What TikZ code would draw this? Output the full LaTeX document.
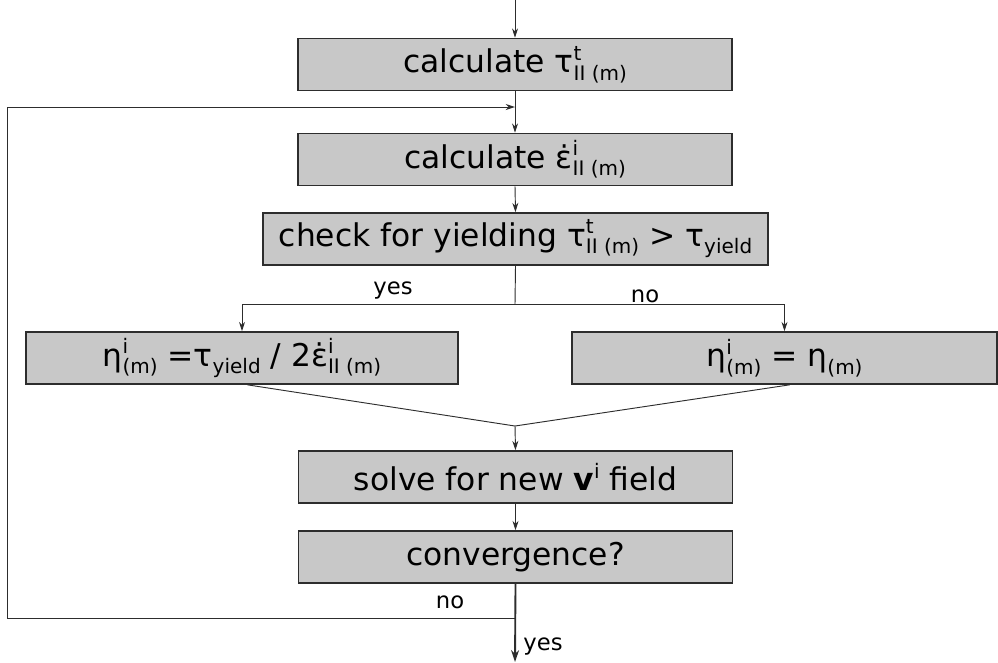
\documentclass[tikz,border=0pt]{standalone}
\usepackage{fontspec}
\setmainfont{DejaVu Sans}
\usetikzlibrary{arrows.meta}
\definecolor{boxgray}{RGB}{200,200,200}
\definecolor{linegray}{RGB}{45,45,45}
% stacked super- and subscript in text
\newcommand{\idxfont}{\fontsize{15}{15}\selectfont}
\newcommand{\supsub}[2]{\makebox[0pt][l]{\raisebox{0.4em}{\idxfont #1}}\raisebox{-0.24em}{\idxfont #2}}
\newcommand{\lowsub}[1]{\raisebox{-0.24em}{\idxfont #1}}
\newcommand{\highsup}[1]{\raisebox{0.4em}{\idxfont #1}}
\begin{document}
\begin{tikzpicture}[x=0.75pt,y=-0.75pt,
    stepbox/.style={draw=linegray,line width=1.2pt,fill=boxgray,minimum height=39pt,inner sep=0pt,font=\fontsize{23.5}{26}\selectfont},
    flow/.style={draw=linegray,line width=0.7pt},
    arr/.style={flow,-{Stealth[length=7pt,width=4.5pt]}},
    lbl/.style={font=\fontsize{17}{20}\selectfont}]
    \useasboundingbox (0,0) rectangle (998,662);
    % Main column
    \node[stepbox,minimum width=325.5pt] (calcTau) at (515,64.5) {calculate τ\supsub{t}{II (m)}};
    \node[stepbox,minimum width=325.5pt] (calcRate) at (515,159.5) {calculate ε̇\supsub{i}{II (m)}};
    \node[stepbox,minimum width=378.75pt] (check) at (515.5,239) {check for yielding τ\supsub{t}{II (m)} > τ\lowsub{yield}};
    % Two branches
    \node[stepbox,minimum width=324pt] (etaYield) at (242,358) {η\supsub{i}{(m)} =τ\lowsub{yield} / 2ε̇\supsub{i}{II (m)}};
    \node[stepbox,minimum width=318.75pt] (etaPlain) at (784.5,358) {η\supsub{i}{(m)} = η\lowsub{(m)}};
    % Solve and test
    \node[stepbox,minimum width=325.5pt] (solve) at (515.5,477) {solve for new \textbf{v}\highsup{i} field};
    \node[stepbox,minimum width=325.5pt] (converge) at (515.5,557) {convergence?};
    % Helper points
    \coordinate (entry) at (515,0);
    \coordinate (loopIn) at (515,107);
    \coordinate (split) at (515,304);
    \coordinate (splitL) at (242,304);
    \coordinate (splitR) at (784.5,304);
    \coordinate (merge) at (515,426);
    \coordinate (loopOut) at (515,618);
    \coordinate (exit) at (515,662);
    % Connectors
    \draw[arr] (entry) -- (calcTau.north);
    \draw[arr] (calcTau.south) -- (calcRate.north);
    \draw[arr] (calcRate.south) -- (check.north);
    \draw[flow] (check.south) -- (split);
    \draw[arr] (split) -- (splitL) -- (etaYield.north);
    \draw[arr] (split) -- (splitR) -- (etaPlain.north);
    \draw[flow] ([xshift=4pt]etaYield.south) -- (merge);
    \draw[flow] ([xshift=4pt]etaPlain.south) -- (merge);
    \draw[arr] (merge) -- (solve.north);
    \draw[arr] (solve.south) -- (converge.north);
    % Iteration loop
    \draw[arr] (loopOut) -- (7,618) -- (7,107) -- (loopIn);
    \draw[linegray,line width=1.4pt,-{Stealth[length=9pt,width=6pt]}] (converge.south) -- (exit);
    % Labels
    \node[lbl] at (393,290) {yes};
    \node[lbl] at (645,296) {no};
    \node[lbl] at (450,602) {no};
    \node[lbl] at (543,646) {yes};
\end{tikzpicture}
\end{document}
